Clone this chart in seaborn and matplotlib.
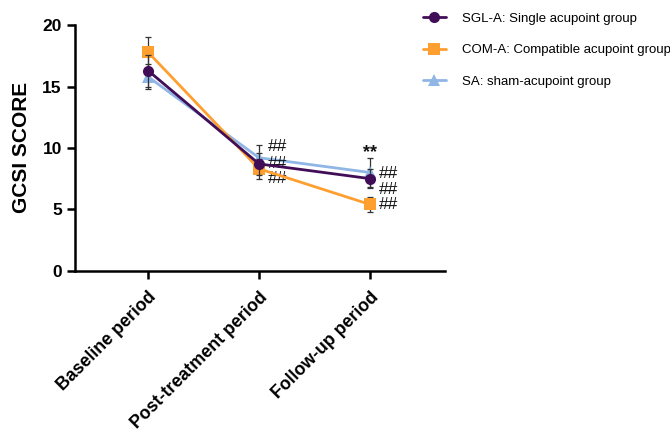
import matplotlib
matplotlib.use("Agg")
import matplotlib.pyplot as plt
import pandas as pd
import seaborn as sns

periods = ["Baseline period", "Post-treatment period", "Follow-up period"]
groups = ["SGL-A: Single acupoint group",
          "COM-A: Compatible acupoint group",
          "SA: sham-acupoint group"]

sgl_mean = [16.3, 8.7, 7.5]
sgl_err = [1.3, 0.9, 0.8]
com_mean = [17.8, 8.3, 5.4]
com_err = [1.2, 0.8, 0.6]
sa_mean = [15.8, 9.2, 8.0]
sa_err = [1.0, 1.0, 1.15]

# (period index, y value, text)
annotations = [
    (1, 10.1, "##"), (1, 8.75, "##"), (1, 7.55, "##"),
    (2, 7.95, "##"), (2, 6.65, "##"), (2, 5.4, "##"),
]
star_note = (2, 9.6, "**")

colors = ["#420d57", "#ff9f30", "#90b6e6"]
markers = ["o", "s", "^"]

means = [sgl_mean, com_mean, sa_mean]
errs = [sgl_err, com_err, sa_err]

rows = []
for g, m, e in zip(groups, means, errs):
    for i, p in enumerate(periods):
        rows.append({"x": i, "period": p, "group": g, "mean": m[i], "err": e[i]})
df = pd.DataFrame(rows)

sns.set_style("white")
plt.rcParams["font.family"] = ["Liberation Sans", "DejaVu Sans"]
plt.rcParams["text.color"] = "black"
plt.rcParams["xtick.color"] = "black"
plt.rcParams["ytick.color"] = "black"
plt.rcParams["axes.labelcolor"] = "black"

fig = plt.figure(figsize=(6.7, 4.37), dpi=100)
ax = fig.add_axes([0.112, 0.3805, 0.552, 0.562])

zorders = [5, 4, 3]
msizes = {"o": 8, "s": 8.5, "^": 8}
for g, c, mk, z in zip(groups, colors, markers, zorders):
    sub = df[df["group"] == g]
    ax.errorbar(sub["x"], sub["mean"], yerr=sub["err"], fmt="none",
                ecolor="#333333", elinewidth=0.9, capsize=2.3, capthick=0.9,
                zorder=z - 0.5)
    sns.lineplot(data=sub, x="x", y="mean", color=c, marker=mk,
                 markersize=msizes[mk], markeredgewidth=0,
                 linewidth=2.0, ax=ax, label=g, zorder=z)

for xi, yv, txt in annotations:
    ax.text(xi + 0.085, yv, txt, fontsize=12.5, va="center", ha="left",
            color="#111111")
ax.text(star_note[0], star_note[1], star_note[2], fontsize=13, va="center",
        ha="center", fontweight="bold", color="#111111")

ax.set_xlim(-0.658, 2.676)
ax.set_ylim(0, 20)
ax.set_yticks([0, 5, 10, 15, 20])
ax.set_xticks(range(len(periods)))
ax.set_xticklabels(periods, rotation=45, ha="right", rotation_mode="anchor",
                   fontsize=12.8, fontweight="bold")
for lab in ax.get_yticklabels():
    lab.set_fontweight("bold")
    lab.set_fontsize(12.5)
ax.set_xlabel("")
ax.set_ylabel("GCSI SCORE", fontsize=15, fontweight="bold", labelpad=8)

sns.despine(ax=ax)
for s in ["left", "bottom"]:
    ax.spines[s].set_linewidth(1.8)
    ax.spines[s].set_color("black")
ax.tick_params(axis="both", direction="out", length=6, width=1.8,
               color="black", bottom=True, left=True)
ax.tick_params(axis="x", pad=7)

handles, labels = ax.get_legend_handles_labels()
ax.get_legend().remove()
fig.legend(handles, labels, loc="upper left", bbox_to_anchor=(0.613, 0.998),
           frameon=False, fontsize=9.5, labelspacing=1.45, handlelength=1.8,
           handletextpad=1.2)

fig.savefig("out.png", dpi=100)
